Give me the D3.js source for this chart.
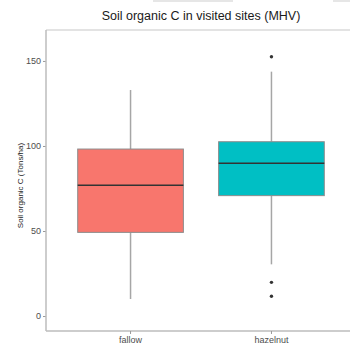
<!DOCTYPE html>
<html>
<head>
<meta charset="utf-8">
<script src="https://cdn.jsdelivr.net/npm/d3@7"></script>
<style>
  body { margin: 0; background: #fff; }
  svg text { font-family: "Liberation Sans", Arial, sans-serif; }
</style>
</head>
<body>
<div id="chart"></div>
<script>
// box stats
var categories = ["fallow", "hazelnut"];
var fills = ["#F8766D", "#00BFC4"];
var lowerWhisker = [10, 30.4];
var q1 = [49.2, 70.8];
var median = [76.9, 89.8];
var q3 = [98.2, 102.5];
var upperWhisker = [132.9, 143.7];
var outliers = [[], [152.5, 19.8, 11.6]];
var yTicks = [0, 50, 100, 150];

var width = 350, height = 344;
var panel = { left: 46, right: 356, top: 30, bottom: 331 };

var svg = d3.select("#chart").append("svg")
  .attr("width", width)
  .attr("height", height);

// faint strips along the top edge of the screenshot
svg.append("rect").attr("x", 153).attr("y", 0).attr("width", 80).attr("height", 2).attr("fill", "#e6e6e6");
svg.append("rect").attr("x", 333).attr("y", 0).attr("width", 17).attr("height", 2).attr("fill", "#e6e6e6");

var y = d3.scaleLinear()
  .domain([-8.8, 168.2])
  .range([panel.bottom, panel.top]);

// ggplot style discrete axis: positions 1..n with 0.6 expansion
var xPos = d3.scaleLinear()
  .domain([0.4, 2.6])
  .range([panel.left, panel.right]);
var x = function(i) { return xPos(i + 1); };
var boxW = xPos(1.75) - xPos(1);

// panel outline (left, bottom, top)
svg.append("line")
  .attr("x1", panel.left).attr("x2", width)
  .attr("y1", panel.top).attr("y2", panel.top)
  .attr("stroke", "#c8c8c8").attr("stroke-width", 1.2);

var yAxis = svg.append("g")
  .attr("transform", "translate(" + panel.left + ",0)")
  .call(d3.axisLeft(y).tickValues(yTicks).tickSize(3).tickPadding(2));
yAxis.select(".domain").remove();
yAxis.selectAll(".tick line").attr("stroke", "#999");
yAxis.selectAll(".tick text")
  .attr("fill", "#4d4d4d")
  .style("font-size", "9px");

svg.append("line")
  .attr("x1", panel.left).attr("x2", panel.left)
  .attr("y1", panel.top).attr("y2", panel.bottom)
  .attr("stroke", "#bdbdbd").attr("stroke-width", 1.5);
svg.append("line")
  .attr("x1", panel.left).attr("x2", width)
  .attr("y1", panel.bottom).attr("y2", panel.bottom)
  .attr("stroke", "#bdbdbd").attr("stroke-width", 1.5);

var xAxis = svg.append("g")
  .attr("transform", "translate(0," + panel.bottom + ")");
categories.forEach(function(c, i) {
  xAxis.append("line")
    .attr("x1", x(i)).attr("x2", x(i))
    .attr("y1", 0).attr("y2", 3)
    .attr("stroke", "#999");
  xAxis.append("text")
    .attr("x", x(i)).attr("y", 12)
    .attr("text-anchor", "middle")
    .attr("fill", "#4d4d4d")
    .style("font-size", "9px")
    .text(c);
});

// boxes
categories.forEach(function(c, i) {
  var g = svg.append("g").attr("class", "box");
  var cx = x(i);

  g.append("line")
    .attr("x1", cx).attr("x2", cx)
    .attr("y1", y(q3[i])).attr("y2", y(upperWhisker[i]))
    .attr("stroke", "#a6a6a6").attr("stroke-width", 1.5);
  g.append("line")
    .attr("x1", cx).attr("x2", cx)
    .attr("y1", y(q1[i])).attr("y2", y(lowerWhisker[i]))
    .attr("stroke", "#a6a6a6").attr("stroke-width", 1.5);

  g.append("rect")
    .attr("x", cx - boxW / 2)
    .attr("y", y(q3[i]))
    .attr("width", boxW)
    .attr("height", y(q1[i]) - y(q3[i]))
    .attr("fill", fills[i])
    .attr("stroke", "#8c8c8c")
    .attr("stroke-width", 1);

  g.append("line")
    .attr("x1", cx - boxW / 2).attr("x2", cx + boxW / 2)
    .attr("y1", y(median[i])).attr("y2", y(median[i]))
    .attr("stroke", "#333").attr("stroke-width", 1.6);

  g.selectAll("circle").data(outliers[i]).enter()
    .append("circle")
    .attr("cx", cx)
    .attr("cy", function(d) { return y(d); })
    .attr("r", 1.7)
    .attr("fill", "#333");
});

// titles
svg.append("text")
  .attr("x", (panel.left + panel.right) / 2)
  .attr("y", 20)
  .attr("text-anchor", "middle")
  .attr("fill", "#1a1a1a")
  .style("font-size", "12.5px")
  .text("Soil organic C in visited sites (MHV)");

svg.append("text")
  .attr("transform", "translate(23," + ((panel.top + panel.bottom) / 2 + 5) + ") rotate(-90)")
  .attr("text-anchor", "middle")
  .attr("fill", "#1a1a1a")
  .style("font-size", "8px")
  .text("Soil organic C (Tons/ha)");
</script>
</body>
</html>
